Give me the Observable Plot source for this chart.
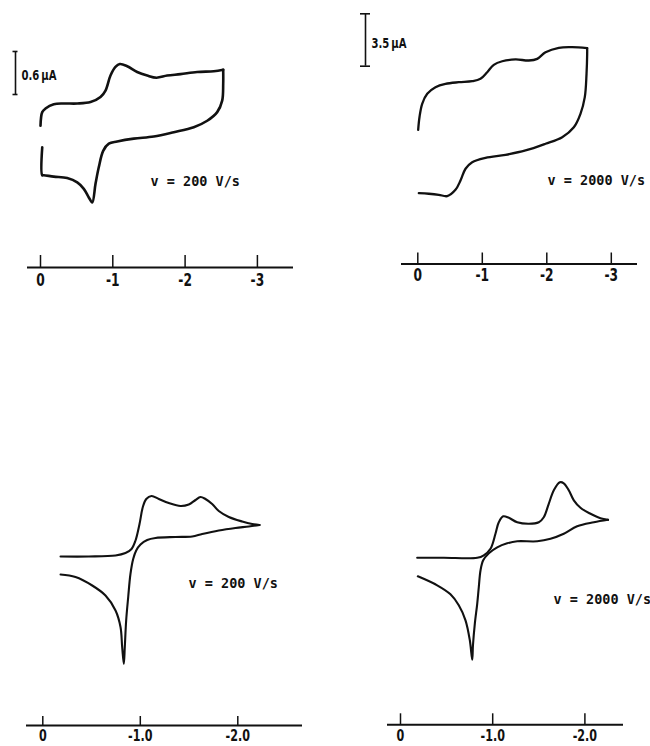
<!DOCTYPE html>
<html>
<head>
<meta charset="utf-8">
<script src="https://cdn.jsdelivr.net/npm/d3@7"></script>
<script src="https://cdn.jsdelivr.net/npm/@observablehq/plot@0.6"></script>
<style>
  body { margin: 0; background: #fff; }
  #fig { position: relative; width: 650px; height: 746px; background: #fff; overflow: hidden; }
  .panel { position: absolute; width: 325px; height: 373px; }
  .panel svg { overflow: visible; }
</style>
</head>
<body>
<div id="fig"></div>
<script>
// ---------------- DATA ----------------
// Potential E (V) and current I; forward (negative-going) and reverse branches.
// Panel A: experimental, v = 200 V/s (current in µA)
const A_fwdE = [0, -0.024, -0.069, -0.184, -0.322, -0.508, -0.692, -0.830, -0.899, -0.968, -1.037, -1.097, -1.199, -1.337, -1.476, -1.604, -1.752, -1.936, -2.167, -2.397, -2.527];
const A_fwdI = [0.15, 0.34, 0.39, 0.45, 0.46, 0.46, 0.48, 0.55, 0.64, 0.85, 0.97, 1.01, 0.98, 0.90, 0.85, 0.82, 0.85, 0.87, 0.90, 0.91, 0.93];
const A_revE = [-2.527, -2.527, -2.513, -2.444, -2.306, -2.120, -1.844, -1.567, -1.290, -1.061, -0.945, -0.867, -0.806, -0.761, -0.715, -0.668, -0.599, -0.508, -0.369, -0.184, -0.046, -0.024, -0.024];
const A_revI = [0.93, 0.735, 0.50, 0.34, 0.22, 0.13, 0.06, 0.00, -0.03, -0.07, -0.10, -0.20, -0.43, -0.66, -0.92, -0.85, -0.73, -0.64, -0.58, -0.56, -0.54, -0.54, -0.15];

// Panel B: experimental, v = 2000 V/s (current in µA)
const B_fwdE = [-0.006, -0.026, -0.068, -0.146, -0.274, -0.429, -0.636, -0.843, -0.972, -1.076, -1.178, -1.309, -1.515, -1.721, -1.851, -1.980, -2.186, -2.394, -2.626];
const B_fwdI = [2.05, 2.89, 3.79, 4.46, 4.90, 5.12, 5.23, 5.30, 5.46, 5.90, 6.39, 6.63, 6.75, 6.68, 6.79, 7.23, 7.53, 7.57, 7.50];
const B_revE = [-2.626, -2.626, -2.616, -2.589, -2.522, -2.419, -2.239, -1.980, -1.670, -1.360, -1.050, -0.843, -0.740, -0.662, -0.584, -0.456, -0.326, -0.171, -0.016];
const B_revI = [7.50, 7.13, 5.79, 4.23, 3.12, 2.22, 1.56, 1.12, 0.67, 0.38, 0.18, -0.11, -0.55, -1.34, -1.96, -2.38, -2.29, -2.22, -2.18];

// Panel C: simulated, v = 200 V/s (relative current)
const C_fwdE = [-0.182, -0.472, -0.746, -0.848, -0.910, -0.951, -0.992, -1.026, -1.061, -1.115, -1.190, -1.292, -1.412, -1.497, -1.566, -1.617, -1.668, -1.737, -1.805, -1.908, -2.045, -2.148, -2.223];
const C_fwdI = [0, 0, 0.02, 0.07, 0.15, 0.32, 0.65, 0.99, 1.15, 1.21, 1.15, 1.07, 1.01, 1.04, 1.13, 1.19, 1.15, 1.05, 0.91, 0.79, 0.70, 0.65, 0.63];
const C_revE = [-2.223, -2.113, -1.976, -1.805, -1.635, -1.532, -1.361, -1.156, -1.071, -1.002, -0.958, -0.927, -0.899, -0.876, -0.855, -0.841, -0.831, -0.814, -0.797, -0.746, -0.643, -0.507, -0.335, -0.182];
const C_revI = [0.63, 0.60, 0.57, 0.52, 0.45, 0.40, 0.39, 0.37, 0.33, 0.24, 0.12, -0.05, -0.35, -0.81, -1.28, -1.81, -2.15, -1.81, -1.41, -1.08, -0.78, -0.58, -0.41, -0.36];

// Panel D: simulated, v = 2000 V/s (relative current)
const D_fwdE = [-0.181, -0.470, -0.832, -0.903, -0.976, -1.030, -1.066, -1.114, -1.175, -1.266, -1.392, -1.500, -1.554, -1.608, -1.663, -1.728, -1.771, -1.825, -1.880, -1.952, -2.061, -2.169, -2.251];
const D_fwdI = [0, 0, 0, 0.05, 0.18, 0.48, 0.71, 0.83, 0.80, 0.71, 0.68, 0.71, 0.81, 1.08, 1.35, 1.51, 1.49, 1.35, 1.15, 1.00, 0.88, 0.79, 0.76];
const D_revE = [-2.251, -2.097, -1.916, -1.771, -1.627, -1.483, -1.266, -1.157, -1.049, -0.958, -0.897, -0.868, -0.849, -0.832, -0.806, -0.786, -0.778, -0.752, -0.705, -0.632, -0.542, -0.398, -0.188];
const D_revI = [0.76, 0.71, 0.63, 0.48, 0.38, 0.33, 0.33, 0.29, 0.21, 0.09, -0.05, -0.25, -0.59, -0.92, -1.32, -1.75, -2.04, -1.65, -1.25, -0.95, -0.73, -0.55, -0.37];

// Axis ticks and labels
const topTicks = [0, -1, -2, -3];
const topTickLabels = ["0", "-1", "-2", "-3"];
const bottomTicks = [0, -1, -2];
const bottomTickLabels = ["0", "-1.0", "-2.0"];

// Scan-rate labels
const speedLabels = ["v = 200 V/s", "v = 2000 V/s", "v = 200 V/s", "v = 2000 V/s"];

// Current scale bars (µA)
const scaleBarValues = [0.6, 3.5];
const scaleBarLabels = ["0.6\u2009\u00b5A", "3.5\u2009\u00b5A"];

// ---------------- LAYOUT (page pixels) ----------------
const layouts = [
  { ox: 0,   oy: 0,   x0: 40,    kx: 72.3, y0: 136,   ky: 71.7,
    axisY: 267, axisX1: 27, axisX2: 293, tickLen: 12, labelDy: 13, labelSize: 17,
    speedX: 150, speedY: 181, bar: { x: 15, bottom: 94, cap: 2.5, dx: 6, dy: 3 }, sw: 2.6 },
  { ox: 325, oy: 0,   x0: 417.3, kx: 64.5, y0: 160,   ky: 14.97,
    axisY: 263.5, axisX1: 401, axisX2: 637, tickLen: 11, labelDy: 12, labelSize: 17,
    speedX: 547, speedY: 180, bar: { x: 365, bottom: 65.7, cap: 5, dx: 6, dy: 3.5 }, sw: 2.3 },
  { ox: 0,   oy: 373, x0: 42.3,  kx: 97.5, y0: 556,   ky: 50,
    axisY: 725, axisX1: 26, axisX2: 302, tickLen: 9, labelDy: 11, labelSize: 15.5,
    speedX: 188, speedY: 583.5, sw: 2.1 },
  { ox: 325, oy: 373, x0: 400,   kx: 92.2, y0: 557.3, ky: 50,
    axisY: 724.3, axisX1: 387, axisX2: 623, tickLen: 11, labelDy: 11.5, labelSize: 15.5,
    speedX: 553, speedY: 599, sw: 2.1 }
];

const panels = [
  { fwdE: A_fwdE, fwdI: A_fwdI, revE: A_revE, revI: A_revI, ticks: topTicks, tickLabels: topTickLabels, speed: speedLabels[0], barValue: scaleBarValues[0], barLabel: scaleBarLabels[0], curve: "catmull-rom" },
  { fwdE: B_fwdE, fwdI: B_fwdI, revE: B_revE, revI: B_revI, ticks: topTicks, tickLabels: topTickLabels, speed: speedLabels[1], barValue: scaleBarValues[1], barLabel: scaleBarLabels[1], curve: "catmull-rom" },
  { fwdE: C_fwdE, fwdI: C_fwdI, revE: C_revE, revI: C_revI, ticks: bottomTicks, tickLabels: bottomTickLabels, speed: speedLabels[2], curve: "catmull-rom" },
  { fwdE: D_fwdE, fwdI: D_fwdI, revE: D_revE, revI: D_revI, ticks: bottomTicks, tickLabels: bottomTickLabels, speed: speedLabels[3], curve: "catmull-rom" }
];

const INK = "#111";
const CONDENSED = "DejaVu Sans, sans-serif";
const MONO = "DejaVu Sans Mono, monospace";

function drawPanel(p, c) {
  const ex = px => -(px - c.x0) / c.kx;  // page px -> volts
  const iy = py => (c.y0 - py) / c.ky;   // page px -> current
  const rows = [];
  p.fwdE.forEach((e, i) => rows.push({ E: e, I: p.fwdI[i], branch: "forward" }));
  p.revE.forEach((e, i) => rows.push({ E: e, I: p.revI[i], branch: "reverse" }));
  const yAxis = iy(c.axisY);

  const marks = [
    Plot.ruleY([yAxis], { x1: ex(c.axisX1), x2: ex(c.axisX2), stroke: INK, strokeWidth: 2 }),
    Plot.ruleX(p.ticks, { x: d => d, y1: yAxis, y2: yAxis + c.tickLen / c.ky, stroke: INK, strokeWidth: 1.5 }),
    Plot.text(p.ticks, { x: d => d, y: yAxis, dy: c.labelDy, text: (d, i) => p.tickLabels[i],
      fontFamily: CONDENSED, fontWeight: "bold", fontSize: c.labelSize, fill: INK }),
    Plot.line(rows, { x: "E", y: "I", z: "branch", curve: p.curve, stroke: INK, strokeWidth: c.sw,
      strokeLinejoin: "round", strokeLinecap: "round" }),
    Plot.text([p.speed], { x: ex(c.speedX), y: iy(c.speedY), text: d => d, textAnchor: "start",
      fontFamily: MONO, fontWeight: "bold", fontSize: 13.5, fill: INK })
  ];

  if (c.bar && p.barValue != null) {
    const xb = ex(c.bar.x);
    const base = iy(c.bar.bottom);
    marks.push(
      Plot.ruleX([xb], { y1: base, y2: base + p.barValue, stroke: INK, strokeWidth: 1.6 }),
      Plot.ruleY([base, base + p.barValue], { x1: ex(c.bar.x - c.bar.cap), x2: ex(c.bar.x + c.bar.cap), stroke: INK, strokeWidth: 1.6 }),
      Plot.text([p.barLabel], { x: xb, y: base + p.barValue / 2, dx: c.bar.dx, dy: c.bar.dy, text: d => d,
        textAnchor: "start", fontFamily: CONDENSED, fontWeight: "bold", fontSize: 14, fill: INK })
    );
  }

  const svg = Plot.plot({
    width: 325, height: 373, margin: 0,
    x: { domain: [0, -1], range: [c.x0 - c.ox, c.x0 - c.ox + c.kx], axis: null },
    y: { domain: [0, 1], range: [c.y0 - c.oy, c.y0 - c.oy - c.ky], axis: null },
    style: { background: "transparent", overflow: "visible" },
    marks
  });

  const div = document.createElement("div");
  div.className = "panel";
  div.style.left = c.ox + "px";
  div.style.top = c.oy + "px";
  div.appendChild(svg);
  document.getElementById("fig").appendChild(div);

  // condense the bold sans labels horizontally (narrow typewriter look)
  svg.querySelectorAll(`g[font-family="${CONDENSED}"] text`).forEach(t => {
    const w = t.getComputedTextLength();
    if (w > 0) {
      t.setAttribute("textLength", (w * 0.72).toFixed(2));
      t.setAttribute("lengthAdjust", "spacingAndGlyphs");
    }
  });
}

panels.forEach((p, i) => drawPanel(p, layouts[i]));
</script>
</body>
</html>
